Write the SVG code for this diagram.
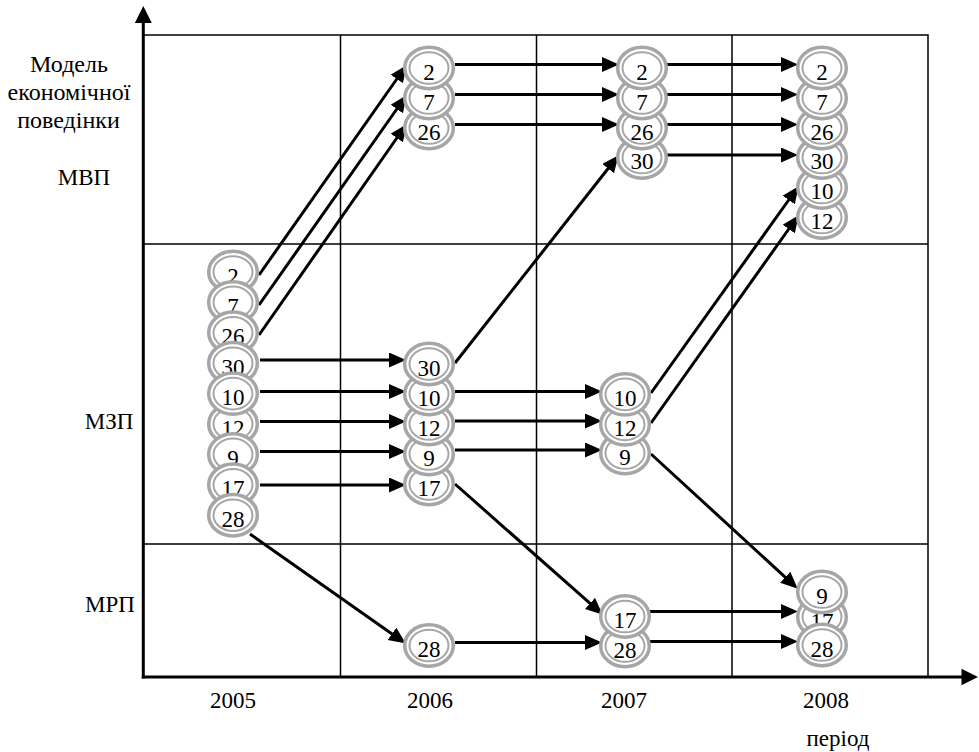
<svg xmlns="http://www.w3.org/2000/svg" xmlns:xlink="http://www.w3.org/1999/xlink" width="979" height="752" viewBox="0 0 979 752">
<style>
  .grid { stroke:#000; stroke-width:1.5; fill:none; }
  .axis { stroke:#000; stroke-width:3; fill:none; }
  .lbl { font-family:"Liberation Serif","Times New Roman",serif; font-size:23px; fill:#000; text-anchor:middle; }
  .ttl { font-family:"Liberation Serif","Times New Roman",serif; font-size:24px; fill:#000; text-anchor:middle; }
  .t { font-family:"Liberation Serif","Times New Roman",serif; font-size:23px; fill:#000; text-anchor:middle; }
  .ro { fill:#fff; stroke:#a6a6a6; stroke-width:3.5; }
  .ri { fill:none; stroke:#a6a6a6; stroke-width:2; }
  .c { stroke:#000; stroke-width:3; fill:none; marker-end:url(#ah); }
</style>
<defs>
  <marker id="ah" markerUnits="userSpaceOnUse" markerWidth="18" markerHeight="16" refX="8" refY="7.5" orient="auto" viewBox="0 0 18 16">
    <path d="M0,0 L17,7.5 L0,15 Z" fill="#000"/>
  </marker>
  <g id="ring">
    <ellipse class="ro" cx="0" cy="0" rx="24.3" ry="20.7"/>
    <ellipse class="ri" cx="0" cy="0" rx="19.5" ry="15.8"/>
  </g>
</defs>
<rect width="979" height="752" fill="#fff"/>

<!-- grid -->
<g id="grid">
  <path class="grid" d="M143,35 H928 V677"/>
  <path class="grid" d="M143,244 H928 M143,544 H928"/>
  <path class="grid" d="M340.5,35 V677 M536.5,35 V677 M732,35 V677"/>
</g>

<!-- axes -->
<g id="axes">
  <path class="axis" d="M143.3,678.5 V20"/>
  <path d="M143.3,6 L151.8,23 L134.8,23 Z" fill="#000"/>
  <path class="axis" d="M141.8,677 H964"/>
  <path d="M978,677 L961.5,668.7 L961.5,685.3 Z" fill="#000"/>
</g>

<!-- labels -->
<g id="labels">
  <text class="ttl" x="69" y="72">Модель</text>
  <text class="ttl" x="69" y="100">економічної</text>
  <text class="ttl" x="68.5" y="128">поведінки</text>
  <text class="lbl" x="84" y="185">МВП</text>
  <text class="lbl" x="109" y="429">МЗП</text>
  <text class="lbl" x="110" y="612">МРП</text>
  <text class="lbl" x="233" y="708">2005</text>
  <text class="lbl" x="430" y="708">2006</text>
  <text class="lbl" x="624" y="708">2007</text>
  <text class="lbl" x="826" y="708">2008</text>
  <text class="lbl" x="838" y="746">період</text>
</g>

<!-- connectors -->
<g id="connectors">
  <path class="c" d="M259,275 L401.4,72.5"/>
  <path class="c" d="M259,305 L401.4,102.5"/>
  <path class="c" d="M259,335 L401.4,131.5"/>
  <path class="c" d="M260,360 H397"/>
  <path class="c" d="M260,391.5 H397"/>
  <path class="c" d="M260,421.5 H397"/>
  <path class="c" d="M260,451.5 H397"/>
  <path class="c" d="M260,485 H397"/>
  <path class="c" d="M250,534 L398.5,638.4"/>
  <path class="c" d="M455,64.5 H610"/>
  <path class="c" d="M455,94.5 H610"/>
  <path class="c" d="M455,124.5 H610"/>
  <path class="c" d="M455,363 L613.05,162.3"/>
  <path class="c" d="M455,391.5 H593"/>
  <path class="c" d="M455,421 H593"/>
  <path class="c" d="M455,450 H593"/>
  <path class="c" d="M455,484 L596,608.7"/>
  <path class="c" d="M455,642.5 H593"/>
  <path class="c" d="M667,64.5 H789"/>
  <path class="c" d="M667,94.5 H789"/>
  <path class="c" d="M667,124.5 H789"/>
  <path class="c" d="M667,155 H789"/>
  <path class="c" d="M651,393 L793.35,193.5"/>
  <path class="c" d="M651,423 L793.4,222.5"/>
  <path class="c" d="M651,454 L791.1,582.6"/>
  <path class="c" d="M650,611.5 H789"/>
  <path class="c" d="M650,641.5 H789"/>
</g>

<!-- 2005 column -->
<g id="n2005_2" transform="translate(233,272)"><use href="#ring"/><text class="t" y="11.6">2</text></g>
<g id="n2005_7" transform="translate(233,302.4)"><use href="#ring"/><text class="t" y="11.6">7</text></g>
<g id="n2005_26" transform="translate(233,332.8)"><use href="#ring"/><text class="t" y="11.6">26</text></g>
<g id="n2005_30" transform="translate(233,363.2)"><use href="#ring"/><text class="t" y="11.6">30</text></g>
<g id="n2005_12" transform="translate(233,424)"><use href="#ring"/><text class="t" y="11.6">12</text></g>
<g id="n2005_10" transform="translate(233,393.6)"><use href="#ring"/><text class="t" y="11.6">10</text></g>
<g id="n2005_9" transform="translate(233,454.4)"><use href="#ring"/><text class="t" y="11.6">9</text></g>
<g id="n2005_17" transform="translate(233,484.8)"><use href="#ring"/><text class="t" y="11.6">17</text></g>
<g id="n2005_28" transform="translate(233,515.2)"><use href="#ring"/><text class="t" y="11.6">28</text></g>

<!-- 2006 column -->
<g id="n2006_26" transform="translate(429,128)"><use href="#ring"/><text class="t" y="11.6">26</text></g>
<g id="n2006_7" transform="translate(429,98)"><use href="#ring"/><text class="t" y="11.6">7</text></g>
<g id="n2006_2" transform="translate(429,68)"><use href="#ring"/><text class="t" y="11.6">2</text></g>
<g id="n2006_17" transform="translate(429,484)"><use href="#ring"/><text class="t" y="11.6">17</text></g>
<g id="n2006_9" transform="translate(429,454)"><use href="#ring"/><text class="t" y="11.6">9</text></g>
<g id="n2006_12" transform="translate(429,424)"><use href="#ring"/><text class="t" y="11.6">12</text></g>
<g id="n2006_10" transform="translate(429,394)"><use href="#ring"/><text class="t" y="11.6">10</text></g>
<g id="n2006_30" transform="translate(429,364)"><use href="#ring"/><text class="t" y="11.6">30</text></g>
<g id="n2006_28" transform="translate(429,645.5)"><use href="#ring"/><text class="t" y="11.6">28</text></g>

<!-- 2007 column -->
<g id="n2007_30" transform="translate(642,157.5)"><use href="#ring"/><text class="t" y="11.6">30</text></g>
<g id="n2007_26" transform="translate(642,128)"><use href="#ring"/><text class="t" y="11.6">26</text></g>
<g id="n2007_7" transform="translate(642,98)"><use href="#ring"/><text class="t" y="11.6">7</text></g>
<g id="n2007_2" transform="translate(642,68)"><use href="#ring"/><text class="t" y="11.6">2</text></g>
<g id="n2007_9" transform="translate(625,453)"><use href="#ring"/><text class="t" y="11.6">9</text></g>
<g id="n2007_12" transform="translate(625,424.4)"><use href="#ring"/><text class="t" y="11.6">12</text></g>
<g id="n2007_10" transform="translate(625,394.4)"><use href="#ring"/><text class="t" y="11.6">10</text></g>
<g id="n2007_28" transform="translate(625,646)"><use href="#ring"/><text class="t" y="11.6">28</text></g>
<g id="n2007_17" transform="translate(625,616.5)"><use href="#ring"/><text class="t" y="11.6">17</text></g>

<!-- 2008 column -->
<g id="n2008_12" transform="translate(822,217.5)"><use href="#ring"/><text class="t" y="11.6">12</text></g>
<g id="n2008_10" transform="translate(822,187.5)"><use href="#ring"/><text class="t" y="11.6">10</text></g>
<g id="n2008_30" transform="translate(822,157.5)"><use href="#ring"/><text class="t" y="11.6">30</text></g>
<g id="n2008_26" transform="translate(822,128)"><use href="#ring"/><text class="t" y="11.6">26</text></g>
<g id="n2008_7" transform="translate(822,98)"><use href="#ring"/><text class="t" y="11.6">7</text></g>
<g id="n2008_2" transform="translate(822,68)"><use href="#ring"/><text class="t" y="11.6">2</text></g>
<g id="n2008_17" transform="translate(822,617)"><use href="#ring"/><text class="t" y="11.6">17</text></g>
<g id="n2008_9" transform="translate(822,592)"><use href="#ring"/><text class="t" y="11.6">9</text></g>
<g id="n2008_28" transform="translate(822,645)"><use href="#ring"/><text class="t" y="11.6">28</text></g>
</svg>
